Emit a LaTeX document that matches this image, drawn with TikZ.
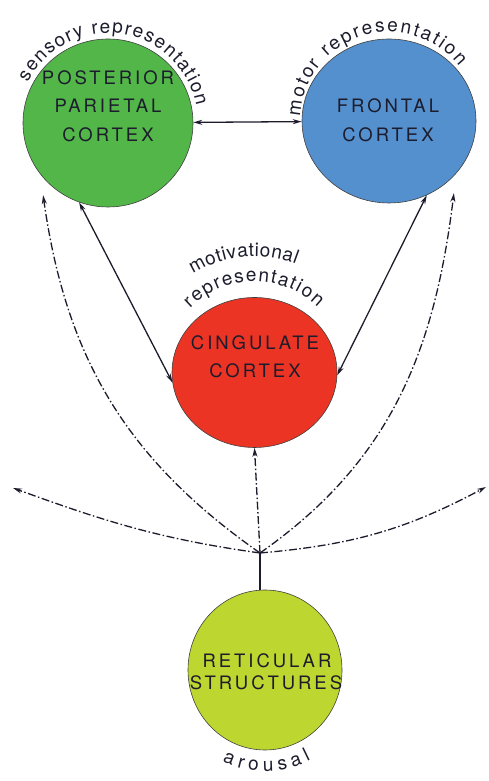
\documentclass[tikz,border=0pt]{standalone}
\usepackage{fontspec}
\setmainfont{TeX Gyre Heros}
\newfontfamily\capsfont[LetterSpace=16]{TeX Gyre Heros}
\newfontfamily\lowfont{TeX Gyre Heros}
\usetikzlibrary{shapes.geometric,arrows.meta,decorations.text,calc}
\definecolor{cgreen}{RGB}{82,183,72}
\definecolor{cblue}{RGB}{84,144,206}
\definecolor{cred}{RGB}{236,52,36}
\definecolor{cyellow}{RGB}{190,214,48}
\definecolor{ink}{RGB}{28,28,45}
\newcommand{\curvefont}{\lowfont\fontsize{19}{19}\selectfont}
\tikzset{
  region/.style={ellipse, draw=black!75, line width=0.6pt, inner sep=0pt},
  lab/.style={font=\capsfont\fontsize{18.5}{20}\selectfont, inner sep=0pt, anchor=base, text=ink},
  link/.style={line width=1.3pt, draw=ink},
  arr/.style={-{Stealth[length=9pt,width=5pt]}},
  dbl/.style={{Stealth[length=9pt,width=5pt]}-{Stealth[length=9pt,width=5pt]}},
  dd/.style={dash pattern=on 8pt off 2.5pt on 1.5pt off 2.5pt},
  curvetext/.style={decorate, decoration={text along path, text align={fit to path}, text format delimiters={|}{|}, text color=ink}}
}
\begin{document}
\begin{tikzpicture}[x=1pt,y=1pt]
\useasboundingbox (0,0) rectangle (489,781);
% regions
\node[region, fill=cgreen, minimum width=170pt, minimum height=168pt] (P) at (108,658) {};
\node[region, fill=cblue, minimum width=174pt, minimum height=164pt] (F) at (389,660) {};
\node[region, fill=cred, minimum width=165pt, minimum height=150pt] (C) at (254.5,408.5) {};
\node[region, fill=cyellow, minimum width=154pt, minimum height=160pt] (R) at (265,111) {};
% inner labels
\node[lab] (p1) at (108,696) {POSTERIOR};
\node[lab] (p2) at (108,668) {PARIETAL};
\node[lab] (p3) at (108,639) {CORTEX};
\node[lab] (f1) at (388,668) {FRONTAL};
\node[lab] (f2) at (388,639) {CORTEX};
\node[lab] (c1) at (255,431) {CINGULATE};
\node[lab] (c2) at (255,403) {CORTEX};
\node[lab] (r1) at (267,113) {RETICULAR};
\node[lab] (r2) at (266,91) {STRUCTURES};
% curved labels
\path[curvetext, decoration={text={|\curvefont|sensory representation}}]
  ($(P.center)+(153:90pt)$) arc[start angle=153, end angle=11, radius=90pt];
\path[curvetext, decoration={text={|\curvefont|motor representation}}]
  ($(F.center)+(177:89pt)$) arc[start angle=177, end angle=38, radius=89pt];
\path[curvetext, decoration={text={|\curvefont|motivational}}]
  ($(C.center)+(122:116pt)$) arc[start angle=122, end angle=69, radius=116pt];
\path[curvetext, decoration={text={|\curvefont|representation}}]
  ($(C.center)+(135:91pt)$) arc[start angle=135, end angle=46, radius=91pt];
\path[curvetext, decoration={text={|\curvefont|arousal}}]
  ($(R.center)+(245:101pt)$) arc[start angle=245, end angle=297, radius=101pt];
% hub and free ends
\coordinate (H) at (260,228);
\coordinate (gt) at ($(P.center)+(228:97pt)$);
\coordinate (bt) at ($(F.center)+(-48:97pt)$);
\coordinate (lt) at (13,293);
\coordinate (rt) at (486,294);
% connectors
\draw[link, dbl] (P) -- (F);
\draw[link, dbl] (P.250) -- (C.187);
\draw[link, dbl] (F.297) -- (C.358);
\draw[link] (R.north -| H) -- (H);
\draw[link, dd, arr] (H) -- (C.south);
\draw[link, dd, arr] (H) to[out=145, in=-82] (gt);
\draw[link, dd, arr] (H) to[out=35, in=-97] (bt);
\draw[link, dd, arr] (H) to[out=172, in=-20] (lt);
\draw[link, dd, arr] (H) to[out=5, in=-152] (rt);
\end{tikzpicture}
\end{document}
